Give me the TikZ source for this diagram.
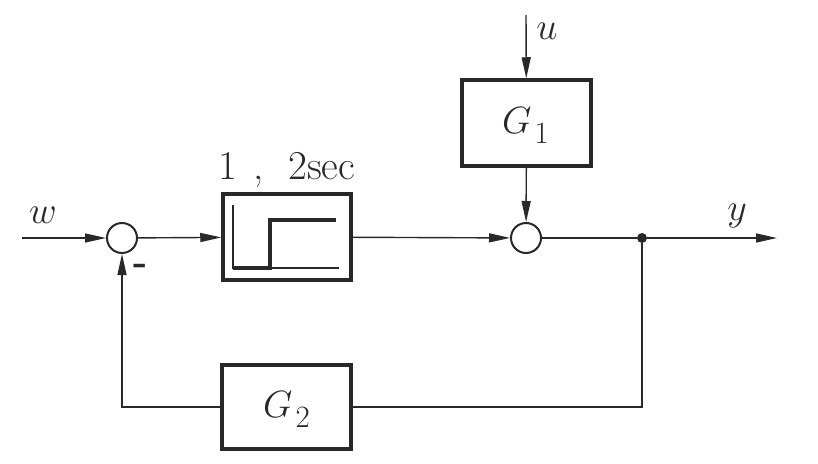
\RequirePackage{fix-cm}
\documentclass[tikz,border=0pt]{standalone}
\usetikzlibrary{arrows.meta}
\definecolor{ink}{RGB}{40,40,40}
\newcommand{\bigsub}[1]{\hspace{3pt}\raisebox{-10pt}{\fontsize{31}{31}\selectfont #1}}
\begin{document}
\begin{tikzpicture}[x=1pt,y=-1pt,
  every node/.style={font=\fontsize{38}{44}\selectfont, text=ink},
  conn/.style={draw=ink, line width=1.4pt},
  arr/.style={conn, -{Triangle[length=21pt,width=9pt]}},
  blockbox/.style={draw=ink, line width=3.5pt, rectangle, inner sep=0pt},
  sumnode/.style={draw=ink, line width=2pt, circle, minimum size=30pt, inner sep=0pt},
  lbl/.style={inner sep=0pt}]
\useasboundingbox (0,0) rectangle (818,463);
% nodes
\node[sumnode] (sum1) at (122,238) {};
\node[sumnode] (sum2) at (526,238) {};
\node[blockbox, minimum width=128pt, minimum height=86pt] (relay) at (287,237) {};
\node[blockbox, minimum width=129pt, minimum height=86pt] (G1) at (526.5,123) {};
\node[blockbox, minimum width=129pt, minimum height=84pt] (G2) at (286.5,407) {};
\node[lbl, anchor=base west] (G1t) at (502,133) {$G$\bigsub{1}};
\node[lbl, anchor=base west] (G2t) at (263,417) {$G$\bigsub{2}};
\node[circle, fill=ink, minimum size=10pt, inner sep=0pt] (dot) at (642,238) {};
\coordinate (win) at (22,238);
\coordinate (yout) at (777,238);
\coordinate (uin) at (526,15);
% step graph inside relay
\draw[ink, line width=1.8pt] (233,205) -- (233,268) -- (339,268);
\draw[ink, line width=3.5pt] (233,268) -- (270,268) -- (270,220) -- (336,220);
% labels
\node[lbl, anchor=base west, font=\fontsize{41}{46}\selectfont] (rl) at (218,179) {1\hspace{17pt},\hspace{24pt}2sec};
\node[lbl] (wl) at (43,215) {$w$};
\node[lbl] (ul) at (547,31) {$u$};
\node[lbl] (yl) at (737,216) {$y$};
\node[lbl, font=\fontsize{38}{44}\bfseries] (mi) at (141,269) {-};
% connectors
\draw[arr] (win) -- (sum1);
\draw[arr] (sum1) -- (relay);
\draw[arr] (relay) -- (sum2);
\draw[arr] (uin) -- (G1);
\draw[arr] (G1) -- (sum2);
\draw[conn] (sum2) -- (dot);
\draw[arr] (dot) -- (yout);
\draw[conn] (dot) |- (G2);
\draw[arr] (G2) -| (sum1);
\end{tikzpicture}
\end{document}
